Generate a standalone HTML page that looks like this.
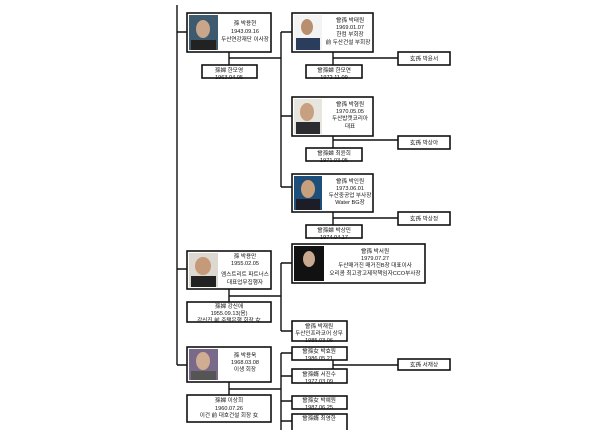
<!DOCTYPE html>
<html><head><meta charset="utf-8"><style>
html,body{margin:0;padding:0;background:#fff;width:600px;height:430px;overflow:hidden}
svg{display:block}
text{font-family:"Liberation Sans","Noto Sans CJK KR",sans-serif;font-size:5.6px;fill:#111;text-anchor:middle}
.b{fill:#fff;stroke:#111;stroke-width:1.6}
.l{stroke:#111;stroke-width:1.4;fill:none}
</style></head><body>
<svg width="600" height="430" viewBox="0 0 600 430">
<!-- main lines -->
<path class="l" d="M177 5V365M177 32H187M177 269H187M177 365H187"/>
<!-- 박용현 family -->
<path class="l" d="M229 52V58H281M281 32V187M281 32H292M281 116H292M281 187H292M229 58V65"/>
<path class="l" d="M333 52V65M333 58H398M333 136V148M333 140H398M333 212V225M333 218H398"/>
<rect class="b" x="187" y="13" width="84" height="39"/>
<rect x="189" y="15" width="29" height="35" fill="#3d5a6e"/><ellipse cx="203" cy="29" rx="7" ry="9" fill="#c9a58a"/><rect x="191" y="40" width="25" height="10" fill="#222"/>
<text x="245" y="25">孫 박용현</text><text x="245" y="33">1943.09.16</text><text x="245" y="41">두산연강재단 이사장</text>
<rect class="b" x="202" y="65" width="55" height="13"/><text x="229" y="72">孫婦 한모영</text><text x="229" y="79">1963.04.05</text>
<rect class="b" x="292" y="13" width="81" height="39"/>
<rect x="294" y="15" width="28" height="35" fill="#f3f3f3"/><ellipse cx="307" cy="27" rx="6" ry="8" fill="#b98f70"/><rect x="296" y="38" width="24" height="12" fill="#2a3d5c"/>
<text x="350" y="22">曾孫 박태원</text><text x="350" y="29">1969.01.07</text><text x="350" y="36">한컴 부회장</text><text x="348" y="44">前 두산건설 부회장</text>
<rect class="b" x="306" y="65" width="56" height="13"/><text x="334" y="72">曾孫婦 한모연</text><text x="334" y="79">1972.11.09</text>
<rect class="b" x="398" y="52" width="52" height="13"/><text x="424" y="60.5">玄孫 박윤서</text>
<rect class="b" x="292" y="97" width="81" height="39"/>
<rect x="294" y="99" width="28" height="35" fill="#e8e4de"/><ellipse cx="307" cy="112" rx="7" ry="9" fill="#c6a080"/><rect x="296" y="122" width="24" height="12" fill="#2b2b30"/>
<text x="350" y="106">曾孫 박형원</text><text x="350" y="113">1970.05.05</text><text x="350" y="120">두산밥캣코리아</text><text x="350" y="128">대표</text>
<rect class="b" x="306" y="148" width="56" height="13"/><text x="334" y="155">曾孫婦 최윤희</text><text x="334" y="162">1971.03.05</text>
<rect class="b" x="398" y="136" width="52" height="13"/><text x="424" y="144.5">玄孫 박상아</text>
<rect class="b" x="292" y="174" width="81" height="38"/>
<rect x="294" y="176" width="28" height="34" fill="#1d4f7a"/><ellipse cx="308" cy="189" rx="7" ry="9" fill="#c9a07c"/><rect x="296" y="199" width="24" height="11" fill="#1d1d28"/>
<text x="350" y="183">曾孫 박인원</text><text x="350" y="190">1973.06.01</text><text x="350" y="197">두산중공업 부사장</text><text x="350" y="204">Water BG장</text>
<rect class="b" x="398" y="212" width="52" height="13"/><text x="424" y="220.5">玄孫 박상정</text>
<rect class="b" x="306" y="225" width="56" height="13"/><text x="334" y="232">曾孫婦 박상민</text><text x="334" y="239">1974.04.17</text>
<!-- 박용만 family -->
<path class="l" d="M229 289V302M229 296H281M281 263V331M281 263H292M281 331H292"/>
<rect class="b" x="187" y="251" width="84" height="38"/>
<rect x="189" y="253" width="29" height="34" fill="#ddd8d0"/><ellipse cx="203" cy="266" rx="8" ry="9" fill="#c49a78"/><rect x="191" y="276" width="25" height="11" fill="#222"/>
<text x="245" y="258">孫 박용만</text><text x="245" y="265">1955.02.05</text><text x="245" y="276">엠스트리트 파트너스</text><text x="245" y="284">대표업무집행자</text>
<rect class="b" x="187" y="302" width="84" height="20"/><text x="229" y="308">孫婦 강신애</text><text x="229" y="315">1955.09.13(음)</text><text x="229" y="322">강신진 前 주택은행 회장 女</text>
<rect class="b" x="292" y="244" width="133" height="39"/>
<rect x="294" y="246" width="30" height="35" fill="#111"/><ellipse cx="309" cy="259" rx="6" ry="8" fill="#c8a88e"/>
<text x="375" y="253">曾孫 박서원</text><text x="375" y="260">1979.07.27</text><text x="375" y="267">두산매거진 매거진B장 대표이사</text><text x="375" y="275">오리콤 최고광고제작책임자CCO부사장</text>
<rect class="b" x="292" y="321" width="55" height="20"/><text x="319" y="328">曾孫 박재원</text><text x="319" y="335">두산인프라코어 상무</text><text x="319" y="342">1985.03.06</text>
<!-- 박용욱 family -->
<path class="l" d="M229 382V395M229 389H281M281 353V430M281 353H292M281 376H292M281 401H292M281 421H292M333 360V369M333 365H398"/>
<rect class="b" x="187" y="347" width="84" height="35"/>
<rect x="189" y="349" width="29" height="31" fill="#7a6a8a"/><ellipse cx="203" cy="361" rx="7" ry="9" fill="#d0ad92"/><rect x="191" y="371" width="25" height="9" fill="#555"/>
<text x="245" y="357">孫 박용욱</text><text x="245" y="364">1968.03.08</text><text x="245" y="371">이생 회장</text>
<rect class="b" x="187" y="395" width="84" height="27"/><text x="229" y="402">孫婦 이상희</text><text x="229" y="410">1960.07.26</text><text x="229" y="417">이건 前 대호건설 회장 女</text>
<rect class="b" x="292" y="347" width="55" height="13"/><text x="319" y="353">曾孫女 박효원</text><text x="319" y="360">1986.05.21</text>
<rect class="b" x="292" y="369" width="55" height="14"/><text x="319" y="376">曾孫婿 서진수</text><text x="319" y="383">1977.03.09</text>
<rect class="b" x="398" y="359" width="52" height="11"/><text x="424" y="366.5">玄孫 서재상</text>
<rect class="b" x="292" y="396" width="55" height="13"/><text x="319" y="402">曾孫女 박예원</text><text x="319" y="409">1987.06.25</text>
<rect class="b" x="292" y="414" width="55" height="20"/><text x="319" y="420">曾孫婿 최영한</text>
</svg>
</body></html>
